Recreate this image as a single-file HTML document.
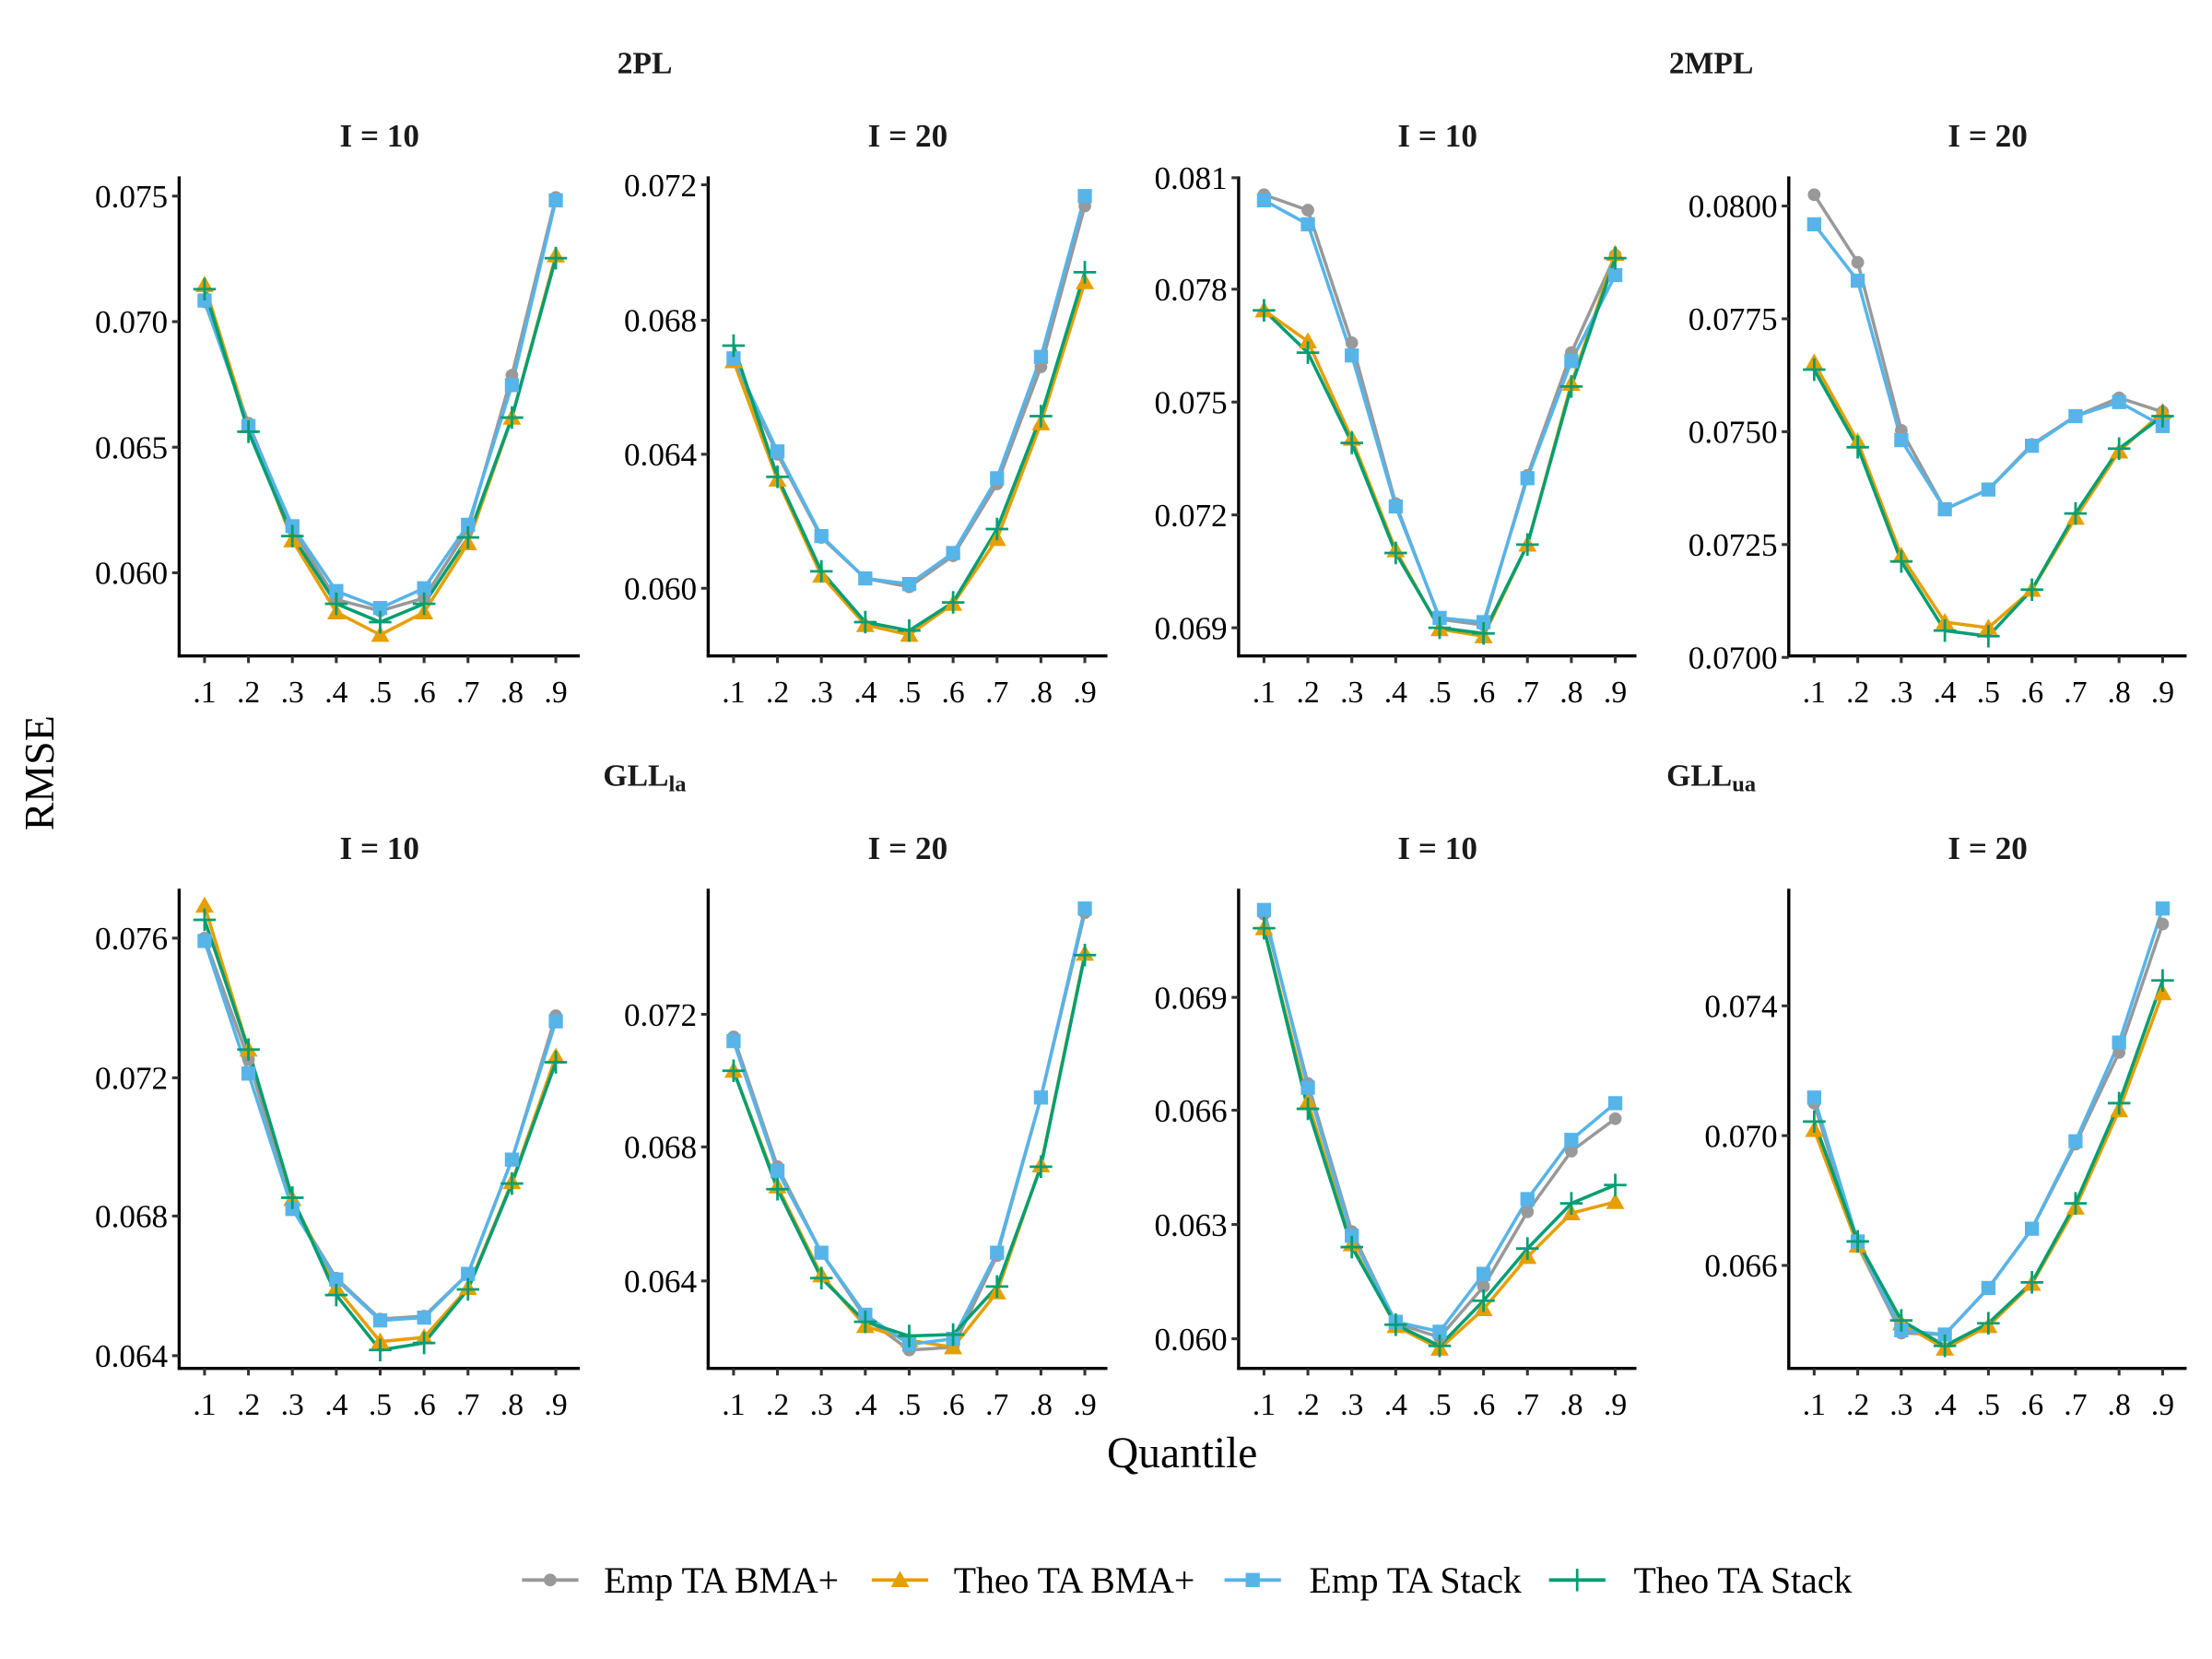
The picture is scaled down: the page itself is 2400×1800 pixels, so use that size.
<!DOCTYPE html>
<html><head><meta charset="utf-8"><style>
html,body{margin:0;padding:0;background:#fff;}
svg{display:block;font-family:"Liberation Serif",serif;}
</style></head><body>
<svg id="s" width="2400" height="1800" viewBox="0 0 1568 1176" xmlns="http://www.w3.org/2000/svg">
<rect width="1568" height="1176" fill="#fff"/>
<text x="457" y="52" font-size="22" font-weight="bold" text-anchor="middle" fill="#1a1a1a">2PL</text>
<text x="1213" y="52" font-size="22" font-weight="bold" text-anchor="middle" fill="#1a1a1a">2MPL</text>
<text x="457" y="557" font-size="22" font-weight="bold" text-anchor="middle" fill="#1a1a1a">GLL<tspan font-size="16" dy="4">la</tspan></text>
<text x="1213" y="557" font-size="22" font-weight="bold" text-anchor="middle" fill="#1a1a1a">GLL<tspan font-size="16" dy="4">ua</tspan></text>
<text x="838" y="1040" font-size="31" text-anchor="middle">Quantile</text>
<text transform="translate(38,548) rotate(-90)" font-size="30" text-anchor="middle">RMSE</text>
</svg>
<script>
var s=document.getElementById('s'),NS='http://www.w3.org/2000/svg';
function el(t,a,txt){var e=document.createElementNS(NS,t);for(var k in a)e.setAttribute(k,a[k]);if(txt!==undefined)e.textContent=txt;s.appendChild(e);return e;}
var C=['#999999','#E69F00','#56B4E9','#009E73'];
function marker(k,x,y){
 if(k==0)el('circle',{cx:x,cy:y,r:4.5,fill:C[0]});
 else if(k==1)el('polygon',{points:(x)+','+(y-6.5)+' '+(x-6.5)+','+(y+5)+' '+(x+6.5)+','+(y+5),fill:C[1]});
 else if(k==2)el('rect',{x:x-5,y:y-5,width:10,height:10,fill:C[2]});
 else {el('line',{x1:x-8,y1:y,x2:x+8,y2:y,stroke:C[3],'stroke-width':1.8});el('line',{x1:x,y1:y-8,x2:x,y2:y+8,stroke:C[3],'stroke-width':1.8});}
}
var P=[
 {ax:127,end:411,x0:145,x1:394,top:125,bot:465,title:'I = 10',ty:104,ticks:[[139,'0.075'],[228,'0.070'],[317,'0.065'],[406,'0.060']],
  d:[[214,300,375,425,433,424,375,266,140],[202,302,383,434,450,434,385,296,181],[213,302,373,419,431,417,372,273,142],[205,306,380,428,441,428,381,296,183]]},
 {ax:502,end:785,x0:520,x1:769,top:125,bot:465,title:'I = 20',ty:104,ticks:[[131,'0.072'],[227,'0.068'],[322,'0.064'],[417,'0.060']],
  d:[[256,322,381,410,416,394,343,260,146],[256,340,408,443,450,428,382,300,200],[254,320,380,410,414,392,339,253,139],[245,338,405,441,447,427,375,295,193]]},
 {ax:878,end:1160,x0:896,x1:1145,top:125,bot:465,title:'I = 10',ty:104,ticks:[[126,'0.081'],[205,'0.078'],[285,'0.075'],[365,'0.072'],[445,'0.069']],
  d:[[138,149,243,357,439,443,337,250,181],[220,242,311,390,446,451,386,272,180],[142,159,252,359,438,441,339,256,195],[220,250,314,392,445,449,386,274,183]]},
 {ax:1268,end:1550,x0:1286,x1:1533,top:125,bot:465,title:'I = 20',ty:104,ticks:[[146,'0.0800'],[226,'0.0775'],[306,'0.0750'],[386,'0.0725'],[466,'0.0700']],
  d:[[138,186,305,361,347,315,295,282,292],[257,313,394,441,445,418,367,320,292],[159,199,312,361,347,316,295,285,302],[262,317,398,447,451,418,364,318,295]]},
 {ax:127,end:411,x0:145,x1:394,top:630,bot:970,title:'I = 10',ty:609,ticks:[[665,'0.076'],[764,'0.072'],[862,'0.068'],[961,'0.064']],
  d:[[665,751,855,906,935,933,903,822,720],[642,744,850,913,951,948,913,838,749],[667,761,857,907,936,934,903,822,724],[652,744,849,918,957,952,914,839,753]]},
 {ax:502,end:785,x0:520,x1:769,top:630,bot:970,title:'I = 20',ty:609,ticks:[[719,'0.072'],[813,'0.068'],[908,'0.064']],
  d:[[735,827,888,934,957,955,890,778,647],[759,841,904,940,950,955,916,826,676],[738,830,888,932,953,949,888,778,644],[759,843,906,937,947,946,912,827,677]]},
 {ax:878,end:1160,x0:896,x1:1145,top:630,bot:970,title:'I = 10',ty:609,ticks:[[707,'0.069'],[787,'0.066'],[868,'0.063'],[949,'0.060']],
  d:[[648,768,873,938,948,912,859,816,793],[658,781,882,940,956,928,891,860,852],[645,771,876,937,944,903,850,808,782],[658,786,884,939,954,922,885,853,840]]},
 {ax:1268,end:1550,x0:1286,x1:1533,top:630,bot:970,title:'I = 20',ty:609,ticks:[[713,'0.074'],[805,'0.070'],[897,'0.066']],
  d:[[782,883,945,946,913,871,811,746,655],[801,883,938,956,940,910,856,787,704],[778,880,943,946,913,871,809,739,644],[795,880,936,954,938,909,853,782,695]]}
];
P.forEach(function(p){
 el('text',{x:(p.ax+p.end)/2,y:p.ty,'font-size':23,'font-weight':'bold','text-anchor':'middle',fill:'#1a1a1a'},p.title);
 el('line',{x1:p.ax,y1:p.top,x2:p.ax,y2:p.bot+1,stroke:'#000','stroke-width':2.2});
 el('line',{x1:p.ax-1,y1:p.bot,x2:p.end,y2:p.bot,stroke:'#000','stroke-width':2.2});
 p.ticks.forEach(function(t){
  el('line',{x1:p.ax-5,y1:t[0],x2:p.ax,y2:t[0],stroke:'#333','stroke-width':2});
  el('text',{x:p.ax-8,y:t[0]+8,'font-size':23,'text-anchor':'end',fill:'#000'},t[1]);
 });
 var st=(p.x1-p.x0)/8;
 for(var i=0;i<9;i++){var x=p.x0+i*st;
  el('line',{x1:x,y1:p.bot,x2:x,y2:p.bot+5,stroke:'#333','stroke-width':2});
  el('text',{x:x,y:p.bot+33,'font-size':22,'text-anchor':'middle',fill:'#000'},'.'+(i+1));
 }
 for(var k=0;k<4;k++){
  var pts=p.d[k].map(function(y,i){return (p.x0+i*st)+','+y;}).join(' ');
  el('polyline',{points:pts,fill:'none',stroke:C[k],'stroke-width':2.3});
 }
 for(var k=0;k<4;k++)p.d[k].forEach(function(y,i){marker(k,p.x0+i*st,y);});
});
var L=[[370,428,'Emp TA BMA+'],[618,676,'Theo TA BMA+'],[868,928,'Emp TA Stack'],[1098,1158,'Theo TA Stack']];
L.forEach(function(l,k){
 el('line',{x1:l[0],y1:1120,x2:l[0]+40,y2:1120,stroke:C[k],'stroke-width':2.5});
 marker(k,l[0]+20,1120);
 el('text',{x:l[1],y:1129,'font-size':26,fill:'#000'},l[2]);
});
</script>
</body></html>
